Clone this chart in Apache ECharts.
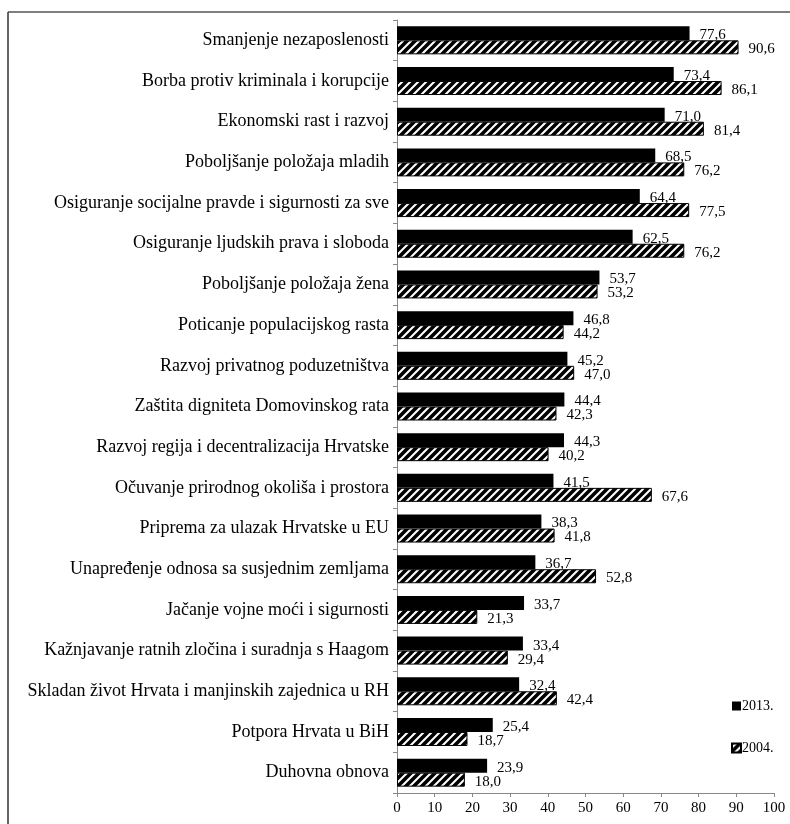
<!DOCTYPE html>
<html>
<head>
<meta charset="utf-8">
<script src="https://cdn.jsdelivr.net/npm/echarts@6/dist/echarts.min.js"></script>
<style>
html,body{margin:0;padding:0;background:#fff;}
#chart{width:790px;height:824px;}
</style>
</head>
<body>
<div id="chart"></div>
<script>
const categories = [
  'Smanjenje nezaposlenosti',
  'Borba protiv kriminala i korupcije',
  'Ekonomski rast i razvoj',
  'Poboljšanje položaja mladih',
  'Osiguranje socijalne pravde i sigurnosti za sve',
  'Osiguranje ljudskih prava i sloboda',
  'Poboljšanje položaja žena',
  'Poticanje populacijskog rasta',
  'Razvoj privatnog poduzetništva',
  'Zaštita digniteta Domovinskog rata',
  'Razvoj regija i decentralizacija Hrvatske',
  'Očuvanje prirodnog okoliša i prostora',
  'Priprema za ulazak Hrvatske u EU',
  'Unapređenje odnosa sa susjednim zemljama',
  'Jačanje vojne moći i sigurnosti',
  'Kažnjavanje ratnih zločina i suradnja s Haagom',
  'Skladan život Hrvata i manjinskih zajednica u RH',
  'Potpora Hrvata u BiH',
  'Duhovna obnova'
];
const values2013 = [77.6, 73.4, 71.0, 68.5, 64.4, 62.5, 53.7, 46.8, 45.2, 44.4, 44.3, 41.5, 38.3, 36.7, 33.7, 33.4, 32.4, 25.4, 23.9];
const values2004 = [90.6, 86.1, 81.4, 76.2, 77.5, 76.2, 53.2, 44.2, 47.0, 42.3, 40.2, 67.6, 41.8, 52.8, 21.3, 29.4, 42.4, 18.7, 18.0];
const seriesNames = ['2013.', '2004.'];
const xTicks = {min: 0, max: 100, interval: 10};

const FONT = "'Liberation Serif', 'DejaVu Serif', serif";

function makeHatch() {
  const c = document.createElement('canvas');
  c.width = 8; c.height = 8;
  const ctx = c.getContext('2d');
  ctx.fillStyle = '#fff';
  ctx.fillRect(0, 0, 8, 8);
  ctx.strokeStyle = '#000';
  ctx.lineWidth = 3.6;
  ctx.beginPath();
  ctx.moveTo(-4, 4); ctx.lineTo(4, -4);
  ctx.moveTo(0, 8); ctx.lineTo(8, 0);
  ctx.moveTo(4, 12); ctx.lineTo(12, 4);
  ctx.stroke();
  return c;
}
const hatch = makeHatch();
const fmt = p => p.value.toFixed(1).replace('.', ',');

const chart = echarts.init(document.getElementById('chart'), null, {renderer: 'canvas'});
chart.setOption({
  animation: false,
  backgroundColor: '#fff',
  textStyle: {fontFamily: FONT},
  grid: {left: 397, right: 16, top: 20, bottom: 31, containLabel: false},
  legend: {
    orient: 'vertical',
    left: 726, top: 694,
    itemWidth: 9, itemHeight: 9,
    itemGap: 28,
    icon: 'rect',
    textStyle: {fontFamily: FONT, fontSize: 14, color: '#000', padding: [0, 0, 0, -4]},
    data: seriesNames
  },
  xAxis: {
    type: 'value',
    min: xTicks.min, max: xTicks.max, interval: xTicks.interval,
    splitLine: {show: false},
    axisLine: {show: true, lineStyle: {color: '#888', width: 1}},
    axisTick: {show: true, length: 4, lineStyle: {color: '#888'}},
    axisLabel: {color: '#000', fontFamily: FONT, fontSize: 15, margin: 8}
  },
  yAxis: {
    type: 'category',
    inverse: true,
    data: categories,
    axisLine: {show: true, lineStyle: {color: '#888', width: 1}},
    axisTick: {show: true, length: 4, lineStyle: {color: '#888'}},
    axisLabel: {color: '#000', fontFamily: FONT, fontSize: 18, margin: 8}
  },
  series: [
    {
      name: seriesNames[0],
      type: 'bar',
      data: values2013,
      barWidth: 14,
      barGap: '0%',
      itemStyle: {color: '#000'},
      z: 2,
      label: {
        show: true, position: 'right', distance: 9, offset: [0, 2],
        formatter: fmt, color: '#000', fontFamily: FONT, fontSize: 15,
        backgroundColor: '#fff', padding: [0, 1, 0, 1]
      }
    },
    {
      name: seriesNames[1],
      type: 'bar',
      data: values2004,
      barWidth: 14,
      barGap: '0%',
      itemStyle: {color: {image: hatch, repeat: 'repeat'}, borderColor: '#000', borderWidth: 1},
      z: 3,
      label: {
        show: true, position: 'right', distance: 10, offset: [0, 2],
        formatter: fmt, color: '#000', fontFamily: FONT, fontSize: 15
      }
    }
  ],
  graphic: [
    {type: 'line', shape: {x1: 8, y1: 12, x2: 790, y2: 12}, style: {stroke: '#555', lineWidth: 1.5}, silent: true},
    {type: 'line', shape: {x1: 8, y1: 12, x2: 8, y2: 824}, style: {stroke: '#333', lineWidth: 1.5}, silent: true}
  ]
});
</script>
</body>
</html>
